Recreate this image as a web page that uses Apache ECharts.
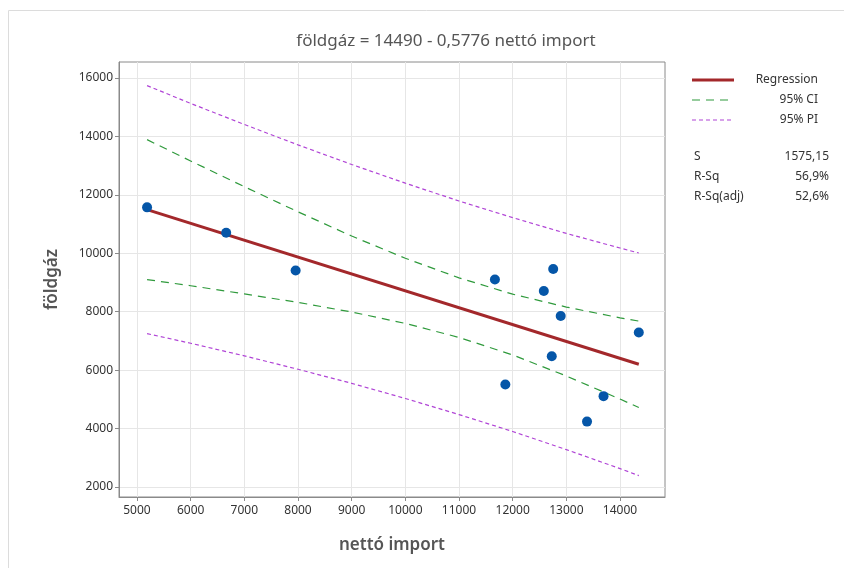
<!DOCTYPE html>
<html><head><meta charset="utf-8">
<script src="https://cdn.jsdelivr.net/npm/echarts@6/dist/echarts.min.js"></script>
<style>html,body{margin:0;padding:0;background:#fff}#c{width:844px;height:568px}</style>
</head><body><div id="c"></div>
<script>
const titleText = 'földgáz = 14490 - 0,5776 nettó import';
const xName = 'nettó import';
const yName = 'földgáz';
const xTicks = [5000, 6000, 7000, 8000, 9000, 10000, 11000, 12000, 13000, 14000];
const yTicks = [2000, 4000, 6000, 8000, 10000, 12000, 14000, 16000];
const xObs = [5188, 6662, 7956, 11669, 12755, 12580, 12895, 14350, 12728, 11863, 13693, 13385];
const yObs = [11573, 10702, 9410, 9100, 9465, 8711, 7851, 7289, 6475, 5511, 5110, 4239];
const fitX = [5188, 14350];
const fitY = [11493, 6201];
const bandX = [5188, 6000, 7000, 8000, 9000, 10000, 11000, 12000, 13000, 14000, 14350];
const ciUpper = [13890, 13160, 12280, 11420, 10590, 9830, 9160, 8600, 8160, 7790, 7680];
const ciLower = [9100, 8890, 8610, 8320, 7990, 7600, 7120, 6520, 5800, 5010, 4720];
const piUpper = [15740, 15130, 14410, 13710, 13040, 12400, 11790, 11220, 10680, 10180, 10010];
const piLower = [7250, 6920, 6490, 6030, 5550, 5030, 4480, 3900, 3280, 2630, 2390];
const legendNames = ['Regression', '95% CI', '95% PI'];
const statNames = ['S', 'R-Sq', 'R-Sq(adj)'];
const statValues = ['1575,15', '56,9%', '52,6%'];

const F = '"Noto Sans", "Open Sans", sans-serif';
const RED = '#a3282b', GREEN = '#2f9a3c', PURPLE = '#b044d6', BLUE = '#0556a8';
const pair = (xs, ys) => xs.map((x, i) => [x, ys[i]]);
const lineS = (data, color, width, type, z) => ({
  type: 'line', data, showSymbol: false, symbol: 'none', silent: true, z,
  lineStyle: { color, width, type }
});

const chart = echarts.init(document.getElementById('c'));
const legendColors = [RED, GREEN, PURPLE];
const legendTypes = ['solid', [8, 6], [4, 3]];
const legendWidths = [3, 1.2, 1.2];
const graphics = [
  { type: 'rect', shape: { x: 8.5, y: 10.5, width: 900, height: 600 }, style: { fill: 'none', stroke: '#dcdcdc', lineWidth: 1 }, silent: true },
  { type: 'text', x: 446, y: 41, style: { text: titleText, font: '17px ' + F, fill: '#555', align: 'center', verticalAlign: 'middle' } }
];
legendNames.forEach((n, i) => {
  const y = 80 + i * 20;
  graphics.push({ type: 'line', shape: { x1: 692, y1: y, x2: 734, y2: y }, style: { stroke: legendColors[i], lineWidth: legendWidths[i], lineDash: legendTypes[i] === 'solid' ? null : legendTypes[i] } });
  graphics.push({ type: 'text', x: 818, y: y, style: { text: n, font: '12px ' + F, fill: '#333', align: 'right', verticalAlign: 'middle' } });
});
statNames.forEach((n, i) => {
  const y = 157 + i * 20;
  graphics.push({ type: 'text', x: 694, y: y, style: { text: n, font: '12px ' + F, fill: '#333', align: 'left', verticalAlign: 'middle' } });
  graphics.push({ type: 'text', x: 829, y: y, style: { text: statValues[i], font: '12px ' + F, fill: '#333', align: 'right', verticalAlign: 'middle' } });
});

chart.setOption({
  animation: false,
  grid: { left: 119, top: 62, right: 179, bottom: 71, show: true, borderColor: '#8a8a8a', borderWidth: 1 },
  xAxis: {
    type: 'value', min: 4665, max: 14838,
    name: xName, nameLocation: 'middle', nameGap: 40,
    nameTextStyle: { fontFamily: F, fontSize: 17, fontWeight: 600, color: '#555' },
    axisLine: { show: true, lineStyle: { color: '#8a8a8a' } },
    axisTick: { show: true, length: 4, customValues: xTicks, lineStyle: { color: '#8a8a8a' } },
    axisLabel: { customValues: xTicks, formatter: v => String(v), color: '#333', fontFamily: F, fontSize: 12, margin: 8 },
    splitLine: { show: true, lineStyle: { color: '#e6e6e6' } }
  },
  yAxis: {
    type: 'value', min: 1658, max: 16548,
    name: yName, nameLocation: 'middle', nameGap: 58,
    nameTextStyle: { fontFamily: F, fontSize: 17, fontWeight: 600, color: '#555' },
    axisLine: { show: true, lineStyle: { color: '#8a8a8a' } },
    axisTick: { show: true, length: 4, customValues: yTicks, lineStyle: { color: '#8a8a8a' } },
    axisLabel: { customValues: yTicks, formatter: v => String(v), color: '#333', fontFamily: F, fontSize: 12, margin: 6 },
    splitLine: { show: true, lineStyle: { color: '#e6e6e6' } }
  },
  graphic: graphics,
  series: [
    lineS(pair(bandX, piUpper), PURPLE, 1.2, [4, 3], 2),
    lineS(pair(bandX, piLower), PURPLE, 1.2, [4, 3], 2),
    lineS(pair(bandX, ciUpper), GREEN, 1.2, [8, 6], 3),
    lineS(pair(bandX, ciLower), GREEN, 1.2, [8, 6], 3),
    lineS(pair(fitX, fitY), RED, 3, 'solid', 4),
    { type: 'scatter', data: pair(xObs, yObs), symbol: 'circle', symbolSize: 10, itemStyle: { color: BLUE, opacity: 1 }, z: 5, silent: true }
  ]
});
</script></body></html>
